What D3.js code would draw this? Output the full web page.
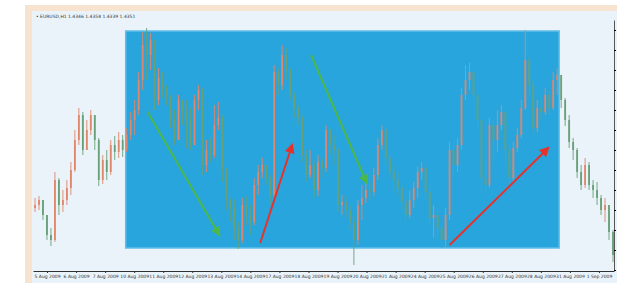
<!DOCTYPE html>
<html>
<head>
<meta charset="utf-8">
<script src="https://cdn.jsdelivr.net/npm/d3@7"></script>
<style>
  html, body { margin: 0; padding: 0; background: #fff; }
  svg { display: block; }
</style>
</head>
<body>
<div id="chart"></div>
<script>
// price in points, one candle per bar, open = previous close
const firstOpen = 62;
const closes = [65,70,55,35,30,90,65,70,82,100,
  130,155,120,140,155,130,90,110,98,125,
  118,130,120,135,150,160,190,225,215,230,
  170,192,182,175,150,130,170,158,150,125,
  170,180,105,120,115,145,152,100,70,62,
  40,30,65,55,48,85,98,105,92,75,
  198,185,215,200,175,162,152,115,95,105,
  80,108,102,140,125,120,65,68,60,48,
  30,65,72,80,78,95,125,140,112,98,
  90,82,68,55,70,82,98,102,78,52,
  55,42,30,55,120,105,125,175,190,198,
  175,150,92,85,145,130,145,158,120,92,
  122,135,162,210,185,142,162,158,175,162,
  190,195,170,150,128,120,98,85,105,85,
  80,72,60,65,38,15];
const highs = [72,74,70,55,42,98,92,80,90,108,
  140,162,158,150,160,152,132,115,120,130,
  134,138,135,142,158,170,198,238,242,237,
  230,202,198,185,175,160,175,170,170,162,
  175,185,182,130,132,165,168,155,102,72,
  70,48,72,74,65,92,105,112,105,95,
  205,202,225,222,202,178,165,155,120,120,
  110,115,112,145,142,135,122,75,74,65,
  55,70,85,90,87,102,132,145,142,115,
  105,98,85,75,80,88,104,108,105,80,
  65,60,45,62,128,125,132,182,205,207,
  202,175,152,110,152,150,160,165,160,125,
  128,142,170,240,215,190,170,172,182,180,
  198,202,182,172,155,132,122,105,112,108,
  90,88,75,72,65,40];
const lows = [58,60,50,30,24,28,55,58,65,75,
  98,125,115,120,135,120,84,86,90,95,
  110,112,113,118,130,135,155,180,190,200,
  160,165,172,165,142,125,135,145,122,120,
  125,160,95,98,108,112,140,88,60,48,
  30,21,27,45,35,45,75,92,85,65,
  72,175,180,190,170,152,145,108,88,92,
  72,74,92,98,115,105,58,55,52,40,
  5,25,50,67,70,74,90,120,105,92,
  78,74,60,48,52,62,72,90,70,45,
  32,30,22,22,50,95,98,120,170,180,
  168,142,78,75,82,105,118,140,108,85,
  88,118,132,160,175,135,138,150,155,155,
  160,175,162,144,122,110,92,80,82,80,
  72,65,55,48,30,8];

// highlighted zone: candle index range, price range
const zoneIdx = [22.75, 131.5];
const zonePts = [22, 239];

// trend arrows: [fromIdx, fromPts, toIdx, toPts]
const arrowNames = ["down1", "up1", "down2", "up2"];
const arrowFrom = [[28.25, 158], [56.5, 27], [69.25, 215], [104, 25]];
const arrowTo = [[46.25, 35], [64.5, 125], [83.25, 87], [128.75, 122]];
const arrowColors = ["#4cb847", "#e6322b", "#4cb847", "#e6322b"];

const dateLabels = ["5 Aug 2009","6 Aug 2009","7 Aug 2009","10 Aug 2009","11 Aug 2009",
  "12 Aug 2009","13 Aug 2009","14 Aug 2009","17 Aug 2009","18 Aug 2009",
  "19 Aug 2009","20 Aug 2009","21 Aug 2009","24 Aug 2009","25 Aug 2009",
  "26 Aug 2009","27 Aug 2009","28 Aug 2009","31 Aug 2009","1 Sep 2009"];

const titleText = "\u2022 EURUSD,H1 1.4346 1.4358 1.4339 1.4351";

const W = 617, H = 283;
const svg = d3.select("#chart").append("svg")
  .attr("width", W).attr("height", H);

// outer frame
svg.append("rect").attr("x", 25).attr("y", 5).attr("width", W - 25).attr("height", H - 5)
  .attr("fill", "#f7e4d0");
svg.append("rect").attr("x", 32).attr("y", 11).attr("width", W - 32).attr("height", H - 11)
  .attr("fill", "#eaf3fa");

const x = d3.scaleLinear().domain([0, closes.length - 1]).range([35, 613]);
const y = d3.scaleLinear().domain([0, 250]).range([270, 20]);

// zone
svg.append("rect")
  .attr("x", x(zoneIdx[0])).attr("y", y(zonePts[1]))
  .attr("width", x(zoneIdx[1]) - x(zoneIdx[0]))
  .attr("height", y(zonePts[0]) - y(zonePts[1]))
  .attr("fill", "#28a5dd")
  .attr("stroke", "#62bfe8").attr("stroke-width", 1.5);

const candles = closes.map((c, i) => ({
  i: i,
  o: i === 0 ? firstOpen : closes[i - 1],
  c: c,
  h: highs[i],
  l: lows[i]
}));

const upCol = "#e0866a", downCol = "#68a078";

const g = svg.append("g");
g.selectAll("line.wick")
  .data(candles)
  .join("line")
  .attr("class", "wick")
  .attr("x1", d => x(d.i)).attr("x2", d => x(d.i))
  .attr("y1", d => y(Math.max(d.h, d.o, d.c)))
  .attr("y2", d => y(Math.min(d.l, d.o, d.c)))
  .attr("stroke", d => d.c >= d.o ? upCol : downCol)
  .attr("stroke-width", 0.9);

g.selectAll("rect.body")
  .data(candles)
  .join("rect")
  .attr("class", "body")
  .attr("x", d => x(d.i) - 0.9)
  .attr("width", 1.8)
  .attr("y", d => y(Math.max(d.o, d.c)))
  .attr("height", d => Math.max(1, Math.abs(y(d.o) - y(d.c))))
  .attr("fill", d => d.c >= d.o ? upCol : downCol);

// arrows
const defs = svg.append("defs");
arrowNames.forEach((n, k) => {
  defs.append("marker")
    .attr("id", "ah-" + n)
    .attr("viewBox", "0 0 10 10")
    .attr("refX", 8).attr("refY", 5)
    .attr("markerWidth", 5).attr("markerHeight", 5)
    .attr("orient", "auto")
    .append("path").attr("d", "M0,0 L10,5 L0,10 z")
    .attr("fill", arrowColors[k]);
});
svg.append("g").selectAll("line")
  .data(arrowNames)
  .join("line")
  .attr("x1", (n, k) => x(arrowFrom[k][0])).attr("y1", (n, k) => y(arrowFrom[k][1]))
  .attr("x2", (n, k) => x(arrowTo[k][0])).attr("y2", (n, k) => y(arrowTo[k][1]))
  .attr("stroke", (n, k) => arrowColors[k])
  .attr("stroke-width", 2)
  .attr("marker-end", n => `url(#ah-${n})`);

// x axis
const xa = d3.scaleBand().domain(dateLabels).range([33, 614]);
const xAxis = svg.append("g")
  .attr("transform", "translate(0,271)")
  .call(d3.axisBottom(xa).tickSize(2).tickSizeOuter(0));
xAxis.select(".domain").attr("stroke", "#333");
xAxis.selectAll("line").attr("stroke", "#333");
xAxis.selectAll("text")
  .attr("y", 4)
  .style("font", "4.5px 'DejaVu Sans'")
  .attr("fill", "#333");

// right axis, price labels fall outside the crop so only ticks are drawn
const yAxis = svg.append("g")
  .attr("transform", "translate(614,0)")
  .call(d3.axisRight(y).ticks(10).tickSize(2).tickSizeOuter(0).tickFormat(""));
yAxis.select(".domain").attr("stroke", "#555");

svg.append("text")
  .attr("x", 36).attr("y", 18)
  .style("font", "4.5px 'DejaVu Sans'")
  .attr("fill", "#333")
  .text(titleText);
</script>
</body>
</html>
